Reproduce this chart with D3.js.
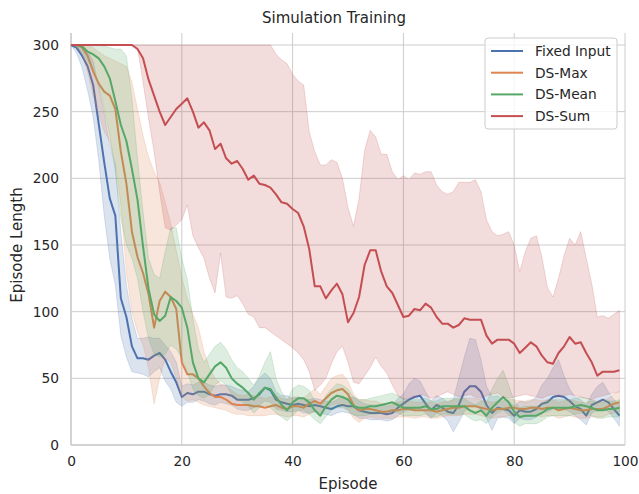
<!DOCTYPE html>
<html><head><meta charset="utf-8">
<script src="https://cdn.jsdelivr.net/npm/d3@7"></script>
<style>body{margin:0;background:#fff}svg{display:block}text{font-family:"DejaVu Sans",sans-serif}</style>
</head><body><svg id="c" width="639" height="494"></svg>
<script>
const episodes = d3.range(0, 100);
const xTicks = [0, 20, 40, 60, 80, 100];
const yTicks = [0, 50, 100, 150, 200, 250, 300];
const seriesNames = ["Fixed Input", "DS-Max", "DS-Mean", "DS-Sum"];

const fixedMean = [300,298,292,284,270,241,212,185,172,110, 96,74,65,65,64,67,69,64,55,47, 36,39,38,40,40,38,37,38,38,37, 34,34,34,35,38,43,41,34,32,31, 30,31,30,29,30,29,28,27,29,30, 29,29,26,25,24,24,24,23,24,28, 31,34,36,37,31,26,30,28,25,24, 30,40,44,44,40,30,24,28,27,26, 22,26,25,25,27,31,32,36,37,36, 33,29,27,22,30,32,34,32,27,22];
const fixedLo = [300,294,283,266,246,214,172,140,120,82, 66,55,54,53,51,55,58,48,42,32, 29,32,32,34,33,31,30,32,31,30, 27,26,26,28,30,33,32,27,26,25, 25,26,24,24,25,24,23,22,24,25, 24,23,20,20,19,19,19,18,19,22, 25,26,27,28,24,20,24,22,18,10, 17,25,30,30,26,20,11,20,21,20, 16,20,19,19,21,24,25,27,28,27, 25,22,19,15,24,26,27,25,20,14];
const fixedHi = [300,300,298,295,288,268,248,225,210,160, 120,95,80,80,81,80,80,75,70,62, 44,46,45,47,47,45,44,45,45,44, 42,41,40,44,50,54,50,40,37,37, 35,36,35,34,35,34,33,32,34,36, 35,36,33,31,30,30,30,29,30,35, 38,46,50,48,40,33,37,35,32,34, 50,66,80,79,64,44,36,37,34,33, 29,33,32,33,36,45,50,58,64,52, 42,36,34,30,38,44,47,40,34,30];

const maxMean = [300,300,298,292,280,271,265,262,252,220, 196,160,141,129,113,88,108,115,111,102, 62,53,53,50,44,39,36,36,34,31, 30,30,30,29,29,28,29,30,28,27, 29,29,28,31,33,31,35,39,41,42, 38,30,26,27,27,26,25,25,26,26, 27,27,26,26,26,26,25,26,27,28, 28,29,29,29,28,27,26,27,27,28, 28,27,27,28,28,27,28,28,26,27, 28,27,26,26,27,27,27,29,31,32];
const maxLo = [300,299,293,280,262,248,235,228,212,180, 130,100,85,75,58,31,50,65,62,50, 36,33,34,32,30,29,28,27,26,24, 23,23,22,22,22,22,23,23,22,21, 22,22,21,23,25,24,27,30,31,30, 26,20,17,20,21,20,20,20,20,21, 21,21,20,21,21,20,20,21,22,22, 22,23,23,23,22,21,20,21,21,22, 22,21,21,22,22,21,22,22,20,21, 22,21,20,20,21,21,21,23,24,25];
const maxHi = [300,300,300,300,298,295,292,290,288,286, 284,272,252,232,216,205,197,182,166,146, 126,110,98,88,70,58,50,46,44,41, 38,37,38,37,36,35,36,37,35,34, 36,36,35,39,42,38,44,50,52,53, 48,38,34,34,33,33,31,31,32,32, 33,33,32,32,32,32,31,32,33,34, 34,35,35,35,34,33,32,33,33,34, 34,33,33,34,34,33,34,34,32,33, 34,33,32,32,33,33,33,35,38,40];

const meanMean = [300,300,299,295,293,290,284,275,258,240, 228,207,184,149,117,98,93,97,111,108, 103,88,62,50,47,53,59,62,58,50, 46,43,39,34,39,43,42,36,30,26, 32,35,35,32,26,22,29,34,37,36, 34,29,28,28,29,29,30,31,32,30, 28,28,28,28,29,27,27,29,29,29, 29,29,26,24,26,22,28,32,36,32, 25,21,22,22,22,24,27,28,28,28, 28,29,30,29,28,26,26,27,27,28];
const meanLo = [300,298,295,288,282,270,252,232,205,170, 150,140,125,100,80,68,66,68,75,72, 65,55,42,37,35,38,45,48,45,38, 35,32,29,24,28,30,28,24,21,18, 22,26,26,23,19,16,21,26,28,28, 26,22,22,22,23,23,24,25,25,24, 22,22,22,22,23,21,21,23,23,23, 23,23,20,18,19,16,21,24,26,23, 17,14,16,16,16,18,21,22,22,22, 22,23,24,23,22,20,20,21,21,21];
const meanHi = [300,300,300,300,300,300,299,298,297,297, 292,260,215,175,140,128,125,145,163,163, 140,124,95,72,62,68,74,77,72,64, 58,55,50,45,52,62,70,50,40,34, 42,45,44,41,33,29,37,42,46,45, 42,36,34,34,35,36,37,38,39,37, 35,34,34,34,35,33,33,35,35,35, 35,35,32,30,33,32,42,50,56,45, 33,28,29,29,29,31,34,34,34,34, 34,35,36,35,34,32,32,33,33,34];

const sumMean = [300,300,300,300,300,300,300,300,300,300, 300,300,297,290,274,262,250,240,246,252, 256,260,250,238,242,236,222,226,215,211, 213,207,199,202,196,195,193,188,182,181, 177,174,164,147,119,119,110,116,121,113, 92,99,111,135,146,146,130,119,114,105, 96,97,102,101,106,103,96,91,91,88, 90,95,94,94,94,82,76,79,79,79, 76,69,73,77,74,67,62,61,69,74, 81,76,77,69,62,52,55,55,55,56];
const sumLo = [300,300,300,300,300,300,300,300,300,300, 300,300,298,272,245,220,190,163,161,165, 169,180,157,148,140,125,114,144,111,110, 112,106,98,96,88,88,85,82,79,76, 73,69,64,55,41,45,50,61,70,74, 62,47,46,52,58,66,59,54,45,37, 34,35,36,38,37,35,36,38,40,38, 36,37,38,36,35,37,38,39,36,35, 36,37,38,37,36,35,37,38,36,37, 38,37,36,35,34,36,37,38,39,40];
const sumHi = [300,300,300,300,300,300,300,300,300,300, 300,300,300,300,300,300,300,300,300,300, 300,300,300,300,300,300,300,300,300,300, 300,300,300,300,300,300,300,293,289,286, 278,273,270,235,220,210,210,214,212,200, 178,164,185,221,236,231,218,218,205,199, 202,199,204,203,205,205,195,190,188,190, 197,197,197,199,190,169,160,157,158,160, 150,130,145,155,157,141,118,111,125,142, 155,150,160,140,121,96,97,95,98,101];

const colors = ["#4C72B0", "#DD8452", "#55A868", "#C44E52"];
const series = [
  {name: seriesNames[0], mean: fixedMean, lo: fixedLo, hi: fixedHi, color: colors[0]},
  {name: seriesNames[1], mean: maxMean, lo: maxLo, hi: maxHi, color: colors[1]},
  {name: seriesNames[2], mean: meanMean, lo: meanLo, hi: meanHi, color: colors[2]},
  {name: seriesNames[3], mean: sumMean, lo: sumLo, hi: sumHi, color: colors[3]}
];

const svg = d3.select("#c");
const L = 71, R = 625, T = 45, B = 445;
const x = d3.scaleLinear().domain([0, 100]).range([L, R]);
const y = d3.scaleLinear().domain([0, 300]).range([B, T]);

// grid
const g = svg.append("g");
g.selectAll(".gx").data(xTicks).join("line")
  .attr("x1", d => x(d)).attr("x2", d => x(d)).attr("y1", B).attr("y2", T - 12)
  .attr("stroke", "#cccccc").attr("stroke-width", 1);
g.selectAll(".gy").data(yTicks).join("line")
  .attr("x1", L).attr("x2", R).attr("y1", d => y(d)).attr("y2", d => y(d))
  .attr("stroke", "#cccccc").attr("stroke-width", 1);

// axes
const xAxis = svg.append("g").attr("transform", `translate(0,${B})`)
  .call(d3.axisBottom(x).tickValues(xTicks).tickSize(0).tickPadding(11).tickFormat(d3.format("d")));
const yAxis = svg.append("g").attr("transform", `translate(${L},0)`)
  .call(d3.axisLeft(y).tickValues(yTicks).tickSize(0).tickPadding(12).tickFormat(d3.format("d")));
[xAxis, yAxis].forEach(a => {
  a.select(".domain").attr("stroke", "#cccccc").attr("stroke-width", 1.5);
  a.selectAll("text").attr("font-size", 13.75).attr("fill", "#262626").attr("font-family", "DejaVu Sans");
});
yAxis.select(".domain").attr("d", `M0,${B}V${T - 12}`);
xAxis.select(".domain").attr("d", `M${L},0H${R}`);

// data
const plot = svg.append("g");
series.forEach(s => {
  const area = d3.area().x((d, i) => x(episodes[i])).y0((d, i) => y(s.lo[i])).y1((d, i) => y(s.hi[i]));
  plot.append("path").datum(s.mean).attr("d", area)
    .attr("fill", s.color).attr("fill-opacity", 0.2)
    .attr("stroke", s.color).attr("stroke-opacity", 0.2).attr("stroke-width", 1);
  const line = d3.line().x((d, i) => x(episodes[i])).y(d => y(d));
  plot.append("path").datum(s.mean).attr("d", line)
    .attr("fill", "none").attr("stroke", s.color).attr("stroke-width", 2).attr("stroke-linejoin", "round");
});

// title & labels
svg.append("text").attr("x", 334).attr("y", 23).attr("text-anchor", "middle")
  .attr("font-size", 15).attr("fill", "#262626").text("Simulation Training");
svg.append("text").attr("x", (L + R) / 2).attr("y", 489).attr("text-anchor", "middle")
  .attr("font-size", 15).attr("fill", "#262626").text("Episode");
svg.append("text").attr("transform", `translate(22,${(T + B) / 2}) rotate(-90)`).attr("text-anchor", "middle")
  .attr("font-size", 15).attr("fill", "#262626").text("Episode Length");

// legend
const lg = svg.append("g").attr("transform", "translate(485,38)");
lg.append("rect").attr("width", 132).attr("height", 91).attr("rx", 3)
  .attr("fill", "#fff").attr("fill-opacity", 0.8).attr("stroke", "#cccccc").attr("stroke-width", 1);
series.forEach((s, i) => {
  const yy = 13 + i * 21.7;
  lg.append("line").attr("x1", 6).attr("x2", 38).attr("y1", yy).attr("y2", yy)
    .attr("stroke", s.color).attr("stroke-width", 2);
  lg.append("text").attr("x", 50).attr("y", yy + 5).attr("font-size", 13.75).attr("fill", "#262626").text(s.name);
});
</script></body></html>
